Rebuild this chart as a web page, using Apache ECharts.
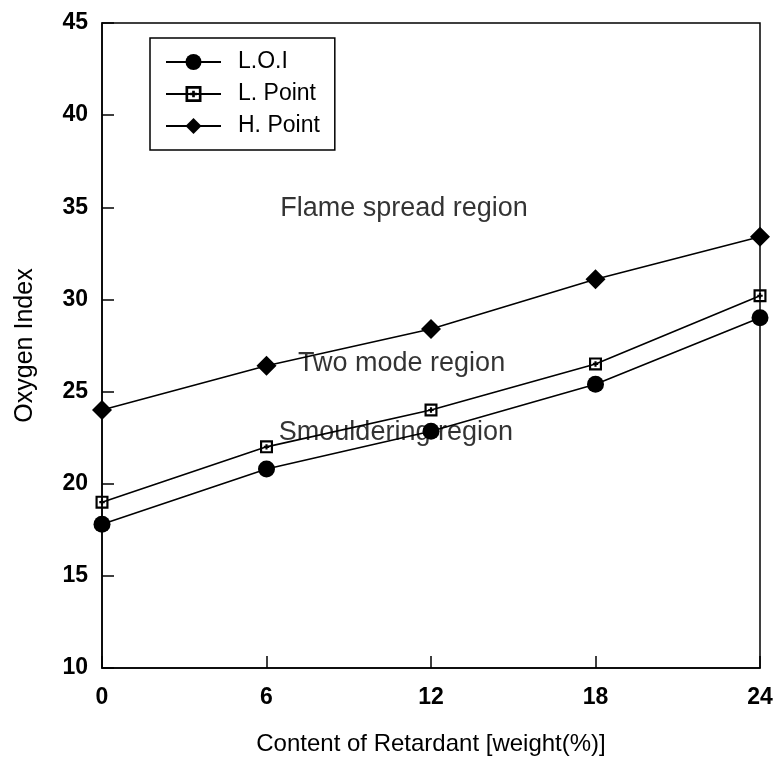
<!DOCTYPE html>
<html>
<head>
<meta charset="utf-8">
<script src="https://cdn.jsdelivr.net/npm/echarts@6/dist/echarts.min.js"></script>
<style>
  html, body { margin: 0; padding: 0; background: #fff; }
  #chart { width: 776px; height: 761px; }
</style>
</head>
<body>
<div id="chart"></div>
<script>
var contents = [0, 6, 12, 18, 24];
var loiValues = [17.8, 20.8, 22.85, 25.4, 29.0];
var lowPointValues = [19.0, 22.0, 24.0, 26.5, 30.2];
var highPointValues = [24.0, 26.4, 28.4, 31.1, 33.4];
var seriesNames = ['L.O.I', 'L. Point', 'H. Point'];
// region labels, anchored at the left end of the text (data coords)
var regionTexts = ['Flame spread region', 'Two mode region', 'Smouldering region'];
var regionX = [6.5, 7.15, 6.45];
var regionY = [34.95, 26.5, 22.75];

var font = 'Liberation Sans, Arial, sans-serif';

var pairs = function(xs, ys) {
	var res = [];
	for (var i = 0; i < xs.length; i++) {
		res.push([xs[i], ys[i]]);
	}
	return res;
};

var regionData = [];
for (var i = 0; i < regionTexts.length; i++) {
	regionData.push({name: regionTexts[i], value: [regionX[i], regionY[i]]});
}

// hollow square with a small cross inside
var squareSymbol = 'path://M0,0H12V12H0Z M2,2V10H10V2Z M5,3.5H7V8.5H5Z M3.5,5H8.5V7H3.5Z';

var lineSeries = function(name, data, symbol, size) {
	return {
		name: name,
		type: 'line',
		data: data,
		symbol: symbol,
		symbolSize: size,
		showAllSymbol: true,
		lineStyle: {color: '#000', width: 1.6},
		itemStyle: {color: '#000', borderWidth: 0},
		z: 3
	};
};

var myChart = echarts.init(document.getElementById('chart'));
var option = {
	animation: false,
	backgroundColor: '#fff',
	textStyle: {fontFamily: font},
	grid: {
		left: 102,
		right: 16,
		top: 23,
		bottom: 91,
		show: true,
		borderColor: '#000',
		borderWidth: 1.5
	},
	legend: {
		orient: 'vertical',
		left: 150,
		top: 38,
		padding: [12, 15, 12, 15],
		borderColor: '#000',
		borderWidth: 1.5,
		itemWidth: 55,
		itemHeight: 20,
		itemGap: 8,
		data: seriesNames,
		textStyle: {fontSize: 23, color: '#000', lineHeight: 24, padding: [0, 0, 0, 12], fontFamily: font}
	},
	xAxis: {
		type: 'value',
		min: 0,
		max: 24,
		interval: 6,
		name: 'Content of Retardant [weight(%)]',
		nameLocation: 'middle',
		nameGap: 64,
		nameTextStyle: {fontSize: 24, color: '#000', fontFamily: font},
		axisLine: {lineStyle: {color: '#000', width: 1.5}},
		axisTick: {inside: true, length: 12, lineStyle: {color: '#000', width: 1.5}},
		axisLabel: {fontSize: 23, fontWeight: 'bold', color: '#000', margin: 18, fontFamily: font},
		splitLine: {show: false}
	},
	yAxis: {
		type: 'value',
		min: 10,
		max: 45,
		interval: 5,
		name: 'Oxygen Index',
		nameLocation: 'middle',
		nameGap: 64,
		nameTextStyle: {fontSize: 25, color: '#000', fontFamily: font},
		axisLine: {lineStyle: {color: '#000', width: 1.5}},
		axisTick: {inside: true, length: 12, lineStyle: {color: '#000', width: 1.5}},
		axisLabel: {fontSize: 23, fontWeight: 'bold', color: '#000', margin: 14, fontFamily: font},
		splitLine: {show: false}
	},
	series: [
		lineSeries(seriesNames[0], pairs(contents, loiValues), 'circle', 17),
		lineSeries(seriesNames[1], pairs(contents, lowPointValues), squareSymbol, 13),
		lineSeries(seriesNames[2], pairs(contents, highPointValues), 'diamond', 20),
		{
			name: 'regions',
			type: 'scatter',
			symbolSize: 0,
			silent: true,
			data: regionData,
			z: 5,
			label: {
				show: true,
				position: 'right',
				distance: 0,
				formatter: '{b}',
				fontSize: 27,
				color: '#000',
				fontFamily: font
			}
		}
	]
};
myChart.setOption(option);

window.onresize = function() {
	myChart.resize();
};
</script>
</body>
</html>
